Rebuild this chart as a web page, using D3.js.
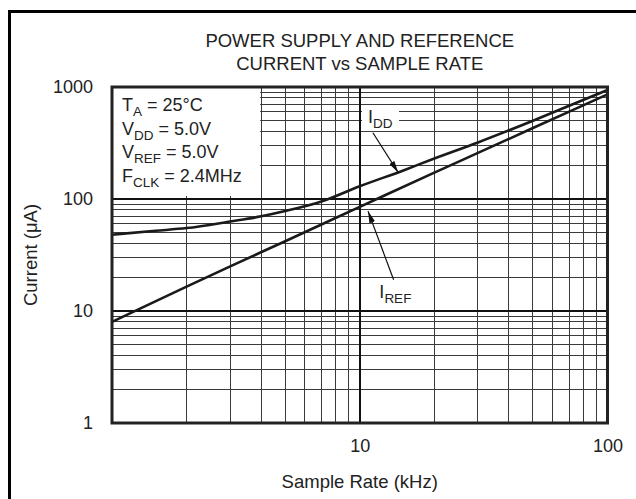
<!DOCTYPE html>
<html>
<head>
<meta charset="utf-8">
<script src="https://cdn.jsdelivr.net/npm/d3@7"></script>
<style>
  body { margin: 0; background: #fff; }
  svg { display: block; font-family: "Liberation Sans", Arial, sans-serif; }
</style>
</head>
<body>
<svg id="chart" width="636" height="499"></svg>
<script>
// values
const iddFreq = [1, 1.5, 2, 3, 4, 5, 7, 10, 15, 20, 30, 50, 70, 100];
const iddValues = [48, 52, 55, 63, 70, 78, 95, 130, 180, 230, 320, 500, 680, 940];
const irefFreq = [1, 2, 3, 5, 10, 20, 30, 50, 100];
const irefValues = [8, 16.5, 25, 42, 85, 172, 258, 430, 860];
const xTicks = [10, 100];
const yTicks = [1, 10, 100, 1000];
const titleLines = ["POWER SUPPLY AND REFERENCE", "CURRENT vs SAMPLE RATE"];
const conditions = [
  ["T", "A", " = 25°C"],
  ["V", "DD", " = 5.0V"],
  ["V", "REF", " = 5.0V"],
  ["F", "CLK", " = 2.4MHz"]
];

const svg = d3.select("#chart");
const pLeft = 112, pRight = 607.5, pTop = 87, pBottom = 423;

let x = d3.scaleLog().domain([1, 100]).range([pLeft, pRight]);
let y = d3.scaleLog().domain([1, 1000]).range([pBottom, pTop]);

// outer frame (only left/top visible)
svg.append("rect")
  .attr("x", 9.5).attr("y", 11.5)
  .attr("width", 660).attr("height", 520)
  .attr("fill", "none").attr("stroke", "#000").attr("stroke-width", 3);

// title
svg.selectAll("text.title")
  .data(titleLines)
  .enter().append("text")
  .attr("class", "title")
  .attr("x", (pLeft + pRight) / 2)
  .attr("y", (d, i) => 47 + i * 23)
  .attr("text-anchor", "middle")
  .attr("font-size", 18.5)
  .attr("fill", "#222")
  .text(d => d);

// grid
let minorX = [], minorY = [];
[1, 10].forEach(dec => { for (let k = 2; k <= 9; k++) minorX.push(k * dec); });
[1, 10, 100].forEach(dec => { for (let k = 2; k <= 9; k++) minorY.push(k * dec); });

let grid = svg.append("g").attr("shape-rendering", "crispEdges");
grid.selectAll("line.vx")
  .data(minorX)
  .enter().append("line")
  .attr("x1", d => x(d)).attr("x2", d => x(d))
  .attr("y1", pTop).attr("y2", pBottom)
  .attr("stroke", "#3a3a3a").attr("stroke-width", 1);
grid.selectAll("line.hy")
  .data(minorY)
  .enter().append("line")
  .attr("x1", pLeft).attr("x2", pRight)
  .attr("y1", d => y(d)).attr("y2", d => y(d))
  .attr("stroke", "#3a3a3a").attr("stroke-width", 1);
// major lines
grid.append("line")
  .attr("x1", x(10)).attr("x2", x(10))
  .attr("y1", pTop).attr("y2", pBottom)
  .attr("stroke", "#111").attr("stroke-width", 2.5);
grid.selectAll("line.major")
  .data([10, 100])
  .enter().append("line")
  .attr("x1", pLeft).attr("x2", pRight)
  .attr("y1", d => y(d)).attr("y2", d => y(d))
  .attr("stroke", "#111").attr("stroke-width", 2.5);

// conditions box
svg.append("rect")
  .attr("x", pLeft).attr("y", pTop)
  .attr("width", x(4) - pLeft - 1)
  .attr("height", y(100) - pTop - 3)
  .attr("fill", "#fff");

let cond = svg.selectAll("text.cond")
  .data(conditions)
  .enter().append("text")
  .attr("class", "cond")
  .attr("x", 122)
  .attr("y", (d, i) => 111 + i * 23.6)
  .attr("font-size", 18)
  .attr("fill", "#222");
cond.append("tspan").text(d => d[0]);
cond.append("tspan").attr("font-size", 13.5).attr("dy", 5).text(d => d[1]);
cond.append("tspan").attr("dy", -5).text(d => d[2]);

// curves
let line = d3.line()
  .x(d => x(d[0]))
  .y(d => y(d[1]))
  .curve(d3.curveMonotoneX);

svg.append("path")
  .datum(d3.zip(iddFreq, iddValues))
  .attr("d", line)
  .attr("fill", "none").attr("stroke", "#1a1a1a").attr("stroke-width", 2.6);
svg.append("path")
  .datum(d3.zip(irefFreq, irefValues))
  .attr("d", line)
  .attr("fill", "none").attr("stroke", "#1a1a1a").attr("stroke-width", 2.6);

// labels with arrows
svg.append("defs").append("marker")
  .attr("id", "arrow")
  .attr("viewBox", "0 0 12 6")
  .attr("refX", 12).attr("refY", 3)
  .attr("markerWidth", 12).attr("markerHeight", 6)
  .attr("markerUnits", "userSpaceOnUse")
  .attr("orient", "auto")
  .append("path")
  .attr("d", "M0,0 L12,3 L0,6 Z")
  .attr("fill", "#111");

const labels = [
  { main: "I", sub: "DD", at: [10.8, 477], from: [11.3, 390], to: [14.3, 172], box: true },
  { main: "I", sub: "REF", at: [12, 13.1], from: [13.7, 19], to: [10.8, 78], box: false }
];

labels.forEach(l => {
  if (l.box) {
    svg.append("rect")
      .attr("x", x(l.at[0]) - 6).attr("y", y(l.at[1]) - 16)
      .attr("width", 37).attr("height", 22)
      .attr("fill", "#fff");
  }
  let t = svg.append("text")
    .attr("x", x(l.at[0])).attr("y", y(l.at[1]))
    .attr("font-size", 18).attr("fill", "#222");
  t.append("tspan").text(l.main);
  t.append("tspan").attr("font-size", 13.5).attr("dy", 5).text(l.sub);
  svg.append("line")
    .attr("x1", x(l.from[0])).attr("y1", y(l.from[1]))
    .attr("x2", x(l.to[0])).attr("y2", y(l.to[1]))
    .attr("stroke", "#111").attr("stroke-width", 1.2)
    .attr("marker-end", "url(#arrow)");
});

// plot border
svg.append("rect")
  .attr("x", pLeft).attr("y", pTop)
  .attr("width", pRight - pLeft).attr("height", pBottom - pTop)
  .attr("fill", "none").attr("stroke", "#222").attr("stroke-width", 3);

// axes
let yAxis = svg.append("g")
  .attr("transform", `translate(${pLeft},0)`)
  .call(d3.axisLeft(y).tickValues(yTicks).tickFormat(d3.format("d")).tickSize(0).tickPadding(19));
let xAxis = svg.append("g")
  .attr("transform", `translate(0,${pBottom})`)
  .call(d3.axisBottom(x).tickValues(xTicks).tickFormat(d3.format("d")).tickSize(0).tickPadding(16));
[xAxis, yAxis].forEach(a => {
  a.select(".domain").remove();
  a.selectAll("text")
    .attr("font-size", 18)
    .attr("font-family", "Liberation Sans, Arial, sans-serif")
    .attr("fill", "#222");
});

svg.append("text")
  .attr("x", (pLeft + pRight) / 2).attr("y", 488)
  .attr("text-anchor", "middle")
  .attr("font-size", 18.5).attr("fill", "#222")
  .text("Sample Rate (kHz)");

svg.append("text")
  .attr("transform", `translate(37,${(pTop + pBottom) / 2}) rotate(-90)`)
  .attr("text-anchor", "middle")
  .attr("font-size", 18.5).attr("fill", "#222")
  .text("Current (μA)");
</script>
</body>
</html>
